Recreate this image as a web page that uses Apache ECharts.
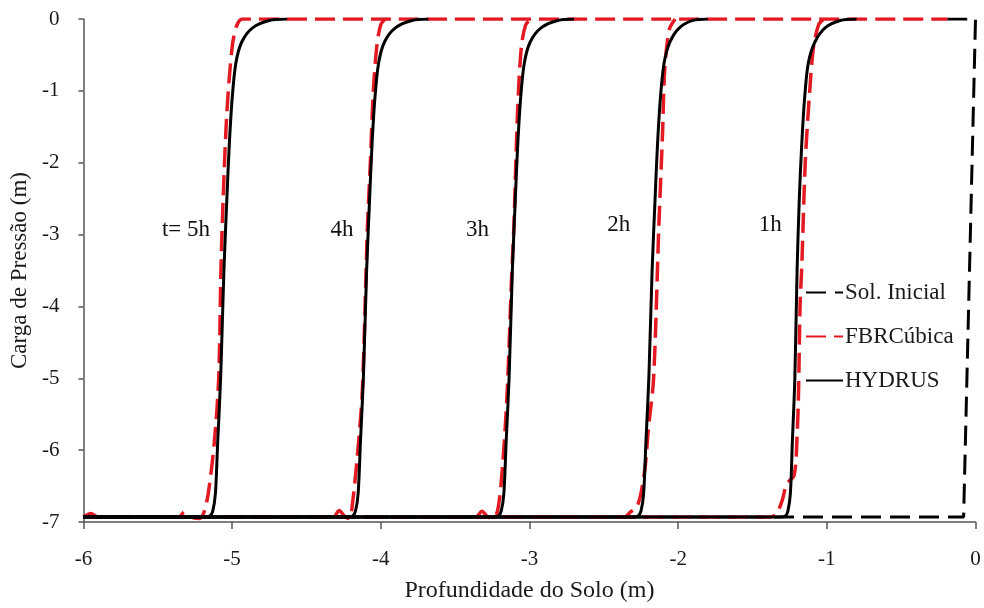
<!DOCTYPE html>
<html>
<head>
<meta charset="utf-8">
<script src="https://cdn.jsdelivr.net/npm/echarts@6/dist/echarts.min.js"></script>
<style>html,body{margin:0;padding:0;background:#fff;}#c{width:984px;height:608px;}</style>
</head>
<body>
<div id="c"></div>
<script>
// ---- data (depth z in m, pressure head h in m) ----
const xTicks = [-6, -5, -4, -3, -2, -1, 0];
const yTicks = [-7, -6, -5, -4, -3, -2, -1, 0];

const solInicial = [[-0.19, 0], [0, 0], [-0.08, -6.93], [-6, -6.93]];

const fbr5h = [[-6,-6.93],[-5.95,-6.88],[-5.90,-6.93],[-5.36,-6.93],[-5.32,-6.86],[-5.28,-6.93],[-5.22,-6.95],[-5.19,-6.87],[-5.16,-6.6],[-5.12,-5.9],[-5.09,-5.0],[-5.075,-3.5],[-5.06,-2.5],[-5.035,-1.3],[-5.0,-0.4],[-4.97,-0.1],[-4.93,0],[-0.19,0]];
const fbr4h = [[-6,-6.93],[-4.32,-6.93],[-4.28,-6.84],[-4.24,-6.93],[-4.21,-6.95],[-4.19,-6.74],[-4.16,-6.14],[-4.125,-5.22],[-4.10,-3.6],[-4.09,-2.9],[-4.07,-2.0],[-4.05,-1.0],[-4.025,-0.35],[-4.00,-0.08],[-3.97,0]];
const fbr3h = [[-6,-6.93],[-3.36,-6.93],[-3.32,-6.85],[-3.28,-6.93],[-3.24,-6.95],[-3.21,-6.8],[-3.18,-6.2],[-3.15,-5.2],[-3.12,-3.6],[-3.105,-2.9],[-3.08,-1.3],[-3.055,-0.4],[-3.025,-0.08],[-2.99,0]];
const fbr2h = [[-6,-6.93],[-2.36,-6.93],[-2.32,-6.86],[-2.28,-6.80],[-2.25,-6.6],[-2.22,-6.2],[-2.20,-5.7],[-2.165,-5.0],[-2.13,-2.9],[-2.105,-1.6],[-2.09,-0.7],[-2.06,-0.15],[-2.02,0]];
const fbr1h = [[-6,-6.93],[-1.38,-6.93],[-1.34,-6.89],[-1.30,-6.7],[-1.27,-6.47],[-1.22,-6.35],[-1.20,-5.8],[-1.19,-5.17],[-1.18,-4.0],[-1.168,-3.42],[-1.145,-2.0],[-1.115,-1.0],[-1.09,-0.4],[-1.055,-0.08],[-1.02,0]];

const hyd5h = [[-6,-6.93],[-5.18,-6.93],[-5.15,-6.92],[-5.13,-6.85],[-5.112,-6.6],[-5.097,-5.9],[-5.077,-5.0],[-5.055,-3.5],[-5.035,-2.5],[-5.02,-1.8],[-5.0,-1.12],[-4.975,-0.62],[-4.935,-0.32],[-4.86,-0.12],[-4.75,-0.02],[-4.63,0]];
const hyd4h = [[-6,-6.93],[-4.22,-6.93],[-4.19,-6.92],[-4.17,-6.85],[-4.152,-6.6],[-4.137,-5.9],[-4.117,-5.0],[-4.095,-3.5],[-4.075,-2.5],[-4.06,-1.8],[-4.04,-1.12],[-4.015,-0.62],[-3.975,-0.32],[-3.90,-0.12],[-3.79,-0.02],[-3.68,0]];
const hyd3h = [[-6,-6.93],[-3.24,-6.93],[-3.21,-6.92],[-3.19,-6.85],[-3.172,-6.6],[-3.157,-5.9],[-3.137,-5.0],[-3.115,-3.5],[-3.095,-2.5],[-3.08,-1.8],[-3.06,-1.12],[-3.035,-0.62],[-2.995,-0.32],[-2.92,-0.12],[-2.81,-0.02],[-2.70,0]];
const hyd2h = [[-6,-6.93],[-2.30,-6.93],[-2.27,-6.92],[-2.25,-6.85],[-2.232,-6.6],[-2.217,-5.9],[-2.197,-5.0],[-2.175,-3.5],[-2.155,-2.5],[-2.14,-1.8],[-2.12,-1.12],[-2.095,-0.62],[-2.055,-0.32],[-1.99,-0.12],[-1.90,-0.02],[-1.80,0]];
const hyd1h = [[-6,-6.93],[-1.31,-6.93],[-1.28,-6.92],[-1.262,-6.85],[-1.245,-6.6],[-1.232,-5.9],[-1.215,-5.0],[-1.20,-3.5],[-1.185,-2.5],[-1.17,-1.8],[-1.15,-1.12],[-1.125,-0.62],[-1.08,-0.32],[-1.01,-0.12],[-0.91,-0.02],[-0.80,0]];

const annotationText = ['t= 5h', '4h', '3h', '2h', '1h'];
const annotationX = [-5.31, -4.26, -3.35, -2.40, -1.38];
const annotationY = [-2.94, -2.94, -2.94, -2.87, -2.87];

// ---- chart ----
const FONT = 'Liberation Serif, Times New Roman, serif';
const RED = '#e31a22';
const chart = echarts.init(document.getElementById('c'), null, {renderer: 'canvas'});

function fbrSeries(name, data) {
  return {name: name, type: 'line', data: data, symbol: 'none', smooth: 0.3,
    lineStyle: {color: RED, width: 3.5, type: [20, 8]}, itemStyle: {color: RED}, z: 2};
}
function hydSeries(name, data) {
  return {name: name, type: 'line', data: data, symbol: 'none', smooth: 0.3,
    lineStyle: {color: '#000', width: 3}, itemStyle: {color: '#000'}, z: 3};
}

const option = {
  animation: false,
  backgroundColor: '#fff',
  textStyle: {fontFamily: FONT},
  grid: {left: 82, right: 8.5, top: 19, bottom: 82, containLabel: false},
  xAxis: {
    type: 'value', min: xTicks[0], max: xTicks[xTicks.length - 1], interval: 1,
    name: 'Profundidade do Solo (m)', nameLocation: 'middle', nameGap: 57,
    nameTextStyle: {fontFamily: FONT, fontSize: 24, color: '#1a1a1a'},
    axisLine: {show: true, onZero: false, lineStyle: {color: '#555', width: 1.5}},
    axisTick: {show: true, length: 7, lineStyle: {color: '#555', width: 1.5}},
    axisLabel: {fontFamily: FONT, fontSize: 21, color: '#1a1a1a', margin: 27},
    splitLine: {show: false}
  },
  yAxis: {
    type: 'value', min: yTicks[0], max: yTicks[yTicks.length - 1], interval: 1,
    name: 'Carga de Pressão (m)', nameLocation: 'middle', nameGap: 50, nameRotate: 90,
    nameTextStyle: {fontFamily: FONT, fontSize: 23, color: '#1a1a1a'},
    axisLine: {show: true, onZero: false, lineStyle: {color: '#555', width: 1.5}},
    axisTick: {show: true, length: 5, lineStyle: {color: '#555', width: 1.5}},
    axisLabel: {fontFamily: FONT, fontSize: 21, color: '#1a1a1a', margin: 24},
    splitLine: {show: false}
  },
  legend: {
    orient: 'vertical', left: 805, top: 281, padding: 0, itemGap: 21,
    itemWidth: 37, itemHeight: 14,
    itemStyle: {opacity: 0},
    data: ['Sol. Inicial', 'FBRCúbica', 'HYDRUS'],
    textStyle: {fontFamily: FONT, fontSize: 23, color: '#1a1a1a', padding: [0, 0, 0, -3]}
  },
  series: [
    fbrSeries('FBRCúbica', fbr5h),
    fbrSeries('FBRCúbica', fbr4h),
    fbrSeries('FBRCúbica', fbr3h),
    fbrSeries('FBRCúbica', fbr2h),
    fbrSeries('FBRCúbica', fbr1h),
    hydSeries('HYDRUS', hyd5h),
    hydSeries('HYDRUS', hyd4h),
    hydSeries('HYDRUS', hyd3h),
    hydSeries('HYDRUS', hyd2h),
    hydSeries('HYDRUS', hyd1h),
    {name: 'Sol. Inicial', type: 'line', data: solInicial, symbol: 'none',
      lineStyle: {color: '#000', width: 3, type: [20, 9]}, itemStyle: {color: '#000'}, z: 1},
    {name: 'labels', type: 'scatter', symbolSize: 0, silent: true, z: 5,
      itemStyle: {color: 'rgba(0,0,0,0)'},
      data: annotationText.map((t, i) => ({name: t, value: [annotationX[i], annotationY[i]]})),
      label: {show: true, position: 'inside', formatter: p => p.name,
        fontFamily: FONT, fontSize: 23, color: '#111', textBorderWidth: 0, opacity: 1}}
  ]
};
chart.setOption(option);
</script>
</body>
</html>
